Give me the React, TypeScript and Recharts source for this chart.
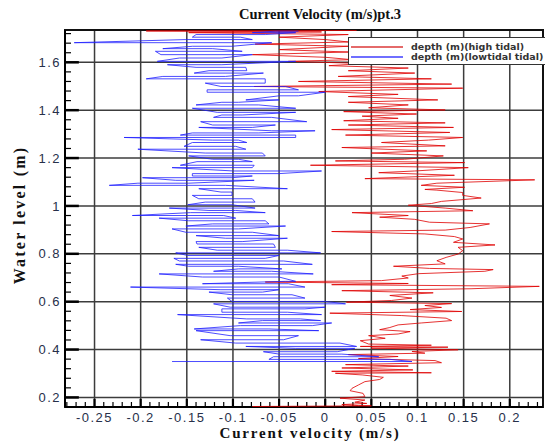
import React from 'react';
import {
  ScatterChart, Scatter, XAxis, YAxis, CartesianGrid, ReferenceLine, ReferenceArea,
} from 'recharts';

// high tidal profile: depth (m) and velocity (m/s), bottom to top
const highDepth = [
  0.162, 0.165, 0.166, 0.170, 0.175, 0.180, 0.189, 0.197, 0.203, 0.217,
  0.228, 0.238, 0.252, 0.266, 0.275, 0.284, 0.294, 0.301, 0.303, 0.309,
  0.315, 0.323, 0.331, 0.337, 0.345, 0.354, 0.362, 0.371, 0.379, 0.385,
  0.392, 0.399, 0.406, 0.410, 0.413, 0.418, 0.423, 0.437, 0.447, 0.458,
  0.465, 0.475, 0.483, 0.492, 0.503, 0.511, 0.521, 0.531, 0.542, 0.552,
  0.559, 0.567, 0.576, 0.584, 0.592, 0.598, 0.605, 0.615, 0.626, 0.637,
  0.646, 0.654, 0.664, 0.671, 0.676, 0.682, 0.688, 0.699, 0.707, 0.717,
  0.727, 0.734, 0.739, 0.748, 0.758, 0.771, 0.785, 0.799, 0.813, 0.827,
  0.837, 0.848, 0.862, 0.872, 0.883, 0.893, 0.899, 0.910, 0.925, 0.932,
  0.944, 0.953, 0.960, 0.972, 0.980, 0.991, 1.003, 1.010, 1.019, 1.033,
  1.044, 1.056, 1.066, 1.069, 1.078, 1.086, 1.095, 1.109, 1.114, 1.128,
  1.139, 1.146, 1.160, 1.170, 1.181, 1.188, 1.195, 1.209, 1.221, 1.230,
  1.244, 1.251, 1.265, 1.275, 1.286, 1.296, 1.307, 1.319, 1.328, 1.338,
  1.347, 1.356, 1.366, 1.375, 1.384, 1.394, 1.401, 1.410, 1.422, 1.433,
  1.443, 1.457, 1.466, 1.478, 1.492, 1.499, 1.509, 1.520, 1.531, 1.541,
  1.555, 1.565, 1.576, 1.586, 1.595, 1.604, 1.611, 1.621, 1.632, 1.643,
  1.653, 1.667, 1.676, 1.685, 1.695, 1.705, 1.716, 1.724, 1.727, 1.731,
  1.733,
];
const highVelocity = [
  -0.079, 0.050, 0.036, 0.018, 0.045, 0.032, 0.043, 0.016, 0.043, 0.041,
  0.027, 0.029, 0.036, 0.043, 0.059, 0.063, 0.040, 0.011, 0.115, 0.007,
  0.095, 0.018, 0.090, 0.022, 0.126, 0.119, 0.036, 0.079, 0.025, 0.108,
  0.094, 0.144, 0.050, 0.133, 0.038, 0.115, 0.047, 0.038, 0.065, 0.047,
  0.079, 0.092, 0.059, 0.070, 0.079, 0.104, 0.137, 0.131, 0.083, 0.005,
  0.148, 0.092, 0.126, 0.108, 0.137, 0.023, 0.072, 0.094, 0.070, 0.117,
  0.018, 0.158, 0.232, 0.007, 0.090, -0.065, 0.061, 0.090, 0.083, 0.101,
  0.173, 0.182, 0.113, 0.074, 0.130, 0.121, 0.131, 0.144, 0.149, 0.144,
  0.184, 0.139, 0.149, 0.140, 0.108, 0.007, 0.130, 0.157, 0.178, 0.113,
  0.097, 0.059, 0.090, 0.029, 0.160, 0.130, 0.090, 0.115, 0.126, 0.169,
  0.149, 0.149, 0.121, 0.108, 0.151, 0.104, 0.121, 0.227, 0.043, 0.140,
  0.058, 0.097, 0.155, -0.016, 0.151, 0.011, 0.086, 0.128, 0.050, 0.110,
  0.018, 0.130, 0.061, 0.112, 0.149, 0.022, 0.135, 0.007, 0.139, 0.025,
  0.130, 0.020, 0.079, 0.040, 0.099, 0.020, 0.130, 0.047, 0.090, 0.025,
  0.122, 0.025, 0.079, -0.007, 0.149, -0.077, 0.137, -0.029, 0.115, 0.014,
  0.097, 0.025, 0.090, 0.004, 0.043, -0.040, 0.029, 0.000, -0.079, 0.025,
  -0.050, 0.025, -0.076, 0.025, 0.000, -0.050, 0.025, -0.148, -0.004, -0.194,
  0.034,
];

// low tidal profile: each depth has a left and right swing of velocity
const lowDepth = [
  0.350, 0.359, 0.370, 0.381, 0.391, 0.405, 0.413, 0.427, 0.441, 0.458,
  0.479, 0.486, 0.500, 0.511, 0.521, 0.528, 0.546, 0.556, 0.570, 0.577,
  0.591, 0.601, 0.615, 0.629, 0.640, 0.650, 0.661, 0.675, 0.685, 0.703,
  0.716, 0.727, 0.737, 0.748, 0.756, 0.770, 0.781, 0.793, 0.804, 0.815,
  0.827, 0.841, 0.851, 0.865, 0.876, 0.890, 0.904, 0.916, 0.925, 0.938,
  0.949, 0.960, 0.972, 0.981, 0.991, 1.005, 1.016, 1.030, 1.044, 1.058,
  1.072, 1.086, 1.095, 1.107, 1.118, 1.125, 1.135, 1.146, 1.160, 1.170,
  1.185, 1.195, 1.209, 1.221, 1.237, 1.249, 1.265, 1.275, 1.286, 1.296,
  1.305, 1.314, 1.328, 1.338, 1.352, 1.370, 1.380, 1.391, 1.408, 1.422,
  1.433, 1.443, 1.460, 1.475, 1.485, 1.499, 1.513, 1.531, 1.541, 1.555,
  1.565, 1.579, 1.590, 1.604, 1.618, 1.632, 1.646, 1.657, 1.667, 1.682,
  1.695, 1.705, 1.716, 1.724, 1.730,
];
const lowLeft = [
  -0.166, -0.061, -0.056, -0.050, -0.067, -0.032, -0.086, -0.097, -0.135, -0.103,
  -0.140, -0.142, -0.092, -0.094, -0.068, -0.085, -0.160, -0.112, -0.112, -0.103,
  -0.121, -0.101, -0.106, -0.101, -0.126, -0.113, -0.211, -0.133, -0.043, -0.133,
  -0.180, -0.121, -0.094, -0.148, -0.162, -0.158, -0.164, -0.149, -0.162, -0.117,
  -0.137, -0.139, -0.140, -0.108, -0.140, -0.151, -0.166, -0.151, -0.122, -0.148,
  -0.180, -0.209, -0.146, -0.126, -0.169, -0.149, -0.130, -0.137, -0.144, -0.113,
  -0.137, -0.234, -0.203, -0.162, -0.198, -0.144, -0.144, -0.099, -0.166, -0.157,
  -0.139, -0.122, -0.148, -0.130, -0.203, -0.153, -0.144, -0.122, -0.218, -0.157,
  -0.144, -0.058, -0.137, -0.122, -0.135, -0.121, -0.112, -0.117, -0.144, -0.140,
  -0.112, -0.086, -0.050, -0.128, -0.128, -0.113, -0.130, -0.194, -0.176, -0.142,
  -0.126, -0.140, -0.171, -0.182, -0.158, -0.178, -0.184, -0.176, -0.144, -0.272,
  -0.151, -0.144, -0.140, -0.079, -0.054,
];
const lowRight = [
  0.094, 0.070, 0.058, 0.018, 0.013, 0.032, 0.034, 0.016, -0.045, -0.029,
  -0.007, -0.061, -0.014, 0.007, -0.005, -0.027, -0.004, -0.041, -0.022, 0.000,
  0.022, 0.000, -0.022, -0.036, -0.068, -0.050, -0.022, -0.040, -0.032, -0.050,
  -0.013, -0.058, -0.047, -0.094, -0.014, -0.045, -0.065, -0.050, -0.005, -0.041,
  -0.054, -0.056, -0.090, -0.041, -0.050, -0.079, -0.094, -0.043, -0.061, -0.065,
  -0.097, -0.110, -0.065, -0.097, -0.076, -0.101, -0.076, -0.079, -0.101, -0.101,
  -0.041, -0.108, -0.148, -0.077, -0.101, -0.079, -0.050, -0.004, -0.079, -0.077,
  -0.079, -0.094, -0.065, -0.068, -0.086, -0.097, -0.085, -0.094, -0.032, -0.032,
  -0.072, -0.011, -0.079, -0.054, -0.020, -0.058, -0.090, -0.032, -0.032, -0.072,
  -0.094, -0.050, -0.029, 0.000, -0.029, -0.043, -0.065, -0.065, -0.108, -0.067,
  -0.085, -0.086, -0.112, -0.032, -0.112, -0.079, -0.090, -0.122, -0.101, -0.058,
  -0.079, -0.092, -0.065, -0.032, -0.029,
];

const xTicks = [-0.25, -0.2, -0.15, -0.1, -0.05, 0, 0.05, 0.1, 0.15, 0.2];
const yTicks = [0.2, 0.4, 0.6, 0.8, 1, 1.2, 1.4, 1.6];

const X_DOMAIN: [number, number] = [-0.282, 0.236];
const Y_DOMAIN: [number, number] = [0.16, 1.735];

const highPoints = highDepth.map((d, i) => ({ d, v: highVelocity[i] }));
const lowPoints = lowDepth.flatMap((d, i) =>
  i % 2 === 0
    ? [{ d, v: lowLeft[i] }, { d, v: lowRight[i] }]
    : [{ d, v: lowRight[i] }, { d, v: lowLeft[i] }]
);

// minor tick positions (0.01 on x, 0.04 on y)
const xMinor: number[] = [];
for (let i = -28; i <= 23; i++) if (i % 5 !== 0) xMinor.push(i / 100);
const yMinor: number[] = [];
for (let i = 5; i <= 43; i++) if (i % 5 !== 0) yMinor.push(+(i * 0.04).toFixed(2));

const fmt = (v: number) => String(+v.toFixed(2));
const tickStyle = { fill: '#27304a', fontSize: 13, fontFamily: 'Liberation Sans, Arial, sans-serif', letterSpacing: 1.5 };
const serif = '"Liberation Serif", "Times New Roman", serif';
const noShape = () => <g />;

export default function App() {
  return (
    <div style={{ position: 'absolute', left: 0, top: 0, width: 545, height: 445, overflow: 'hidden', background: '#fff' }}>
      <ScatterChart width={545} height={445} margin={{ top: 30, right: 2, bottom: 0, left: 0 }}>
        <CartesianGrid stroke="#3c3c3c" strokeWidth={1.5} fill="none" />
        <XAxis
          type="number" dataKey="v" domain={X_DOMAIN} ticks={xTicks} interval={0}
          allowDataOverflow tickFormatter={fmt} tick={tickStyle}
          axisLine={{ stroke: '#000', strokeWidth: 2 }} tickLine={false} tickSize={0} tickMargin={6} height={38}
        />
        <YAxis
          type="number" dataKey="d" domain={Y_DOMAIN} ticks={yTicks} interval={0}
          allowDataOverflow tickFormatter={fmt} tick={tickStyle}
          axisLine={{ stroke: '#000', strokeWidth: 2 }} tickLine={false} tickSize={0} tickMargin={4} width={65}
        />
        <Scatter data={highPoints} fill="#e00000" line={{ stroke: '#e00000', strokeWidth: 1, strokeOpacity: 0.8 }}
          shape={noShape} legendType="none" isAnimationActive={false} />
        <Scatter data={lowPoints} fill="#1f1fff" line={{ stroke: '#1f1fff', strokeWidth: 1, strokeOpacity: 0.8 }}
          shape={noShape} legendType="none" isAnimationActive={false} />
        {xMinor.map((t) => (
          <ReferenceLine key={`xm${t}`} ifOverflow="visible" stroke="#000" strokeWidth={1.2}
            segment={[{ x: t, y: Y_DOMAIN[0] }, { x: t, y: Y_DOMAIN[0] + 0.021 }]} />
        ))}
        {xTicks.map((t) => (
          <ReferenceLine key={`xM${t}`} ifOverflow="visible" stroke="#000" strokeWidth={2.2}
            segment={[{ x: t, y: Y_DOMAIN[0] }, { x: t, y: Y_DOMAIN[0] + 0.034 }]} />
        ))}
        {yMinor.map((t) => (
          <ReferenceLine key={`ym${t}`} ifOverflow="visible" stroke="#000" strokeWidth={1.2}
            segment={[{ x: X_DOMAIN[0], y: t }, { x: X_DOMAIN[0] + 0.0065, y: t }]} />
        ))}
        {yTicks.map((t) => (
          <ReferenceLine key={`yM${t}`} ifOverflow="visible" stroke="#000" strokeWidth={2.5}
            segment={[{ x: X_DOMAIN[0], y: t }, { x: X_DOMAIN[0] + 0.015, y: t }]} />
        ))}
        <ReferenceArea x1={X_DOMAIN[0]} x2={X_DOMAIN[1]} y1={Y_DOMAIN[0]} y2={Y_DOMAIN[1]}
          fill="none" fillOpacity={0} stroke="#111" strokeWidth={2} ifOverflow="visible" />
      </ScatterChart>

      <div style={{ position: 'absolute', left: 320, top: 5, transform: 'translateX(-50%)', whiteSpace: 'nowrap',
        fontFamily: serif, fontWeight: 'bold', fontSize: 14.5, lineHeight: '18px', color: '#111' }}>
        Current Velocity (m/s)pt.3
      </div>
      <div style={{ position: 'absolute', left: 310, top: 424, transform: 'translateX(-50%)', whiteSpace: 'nowrap',
        fontFamily: serif, fontWeight: 'bold', fontSize: 15, lineHeight: '18px', letterSpacing: 1.8, color: '#111' }}>
        Current velocity (m/s)
      </div>
      <div style={{ position: 'absolute', left: 20, top: 215, transform: 'translate(-50%, -50%) rotate(-90deg)', whiteSpace: 'nowrap',
        fontFamily: serif, fontWeight: 'bold', fontSize: 16, lineHeight: '18px', letterSpacing: 2.2, color: '#111' }}>
        Water level (m)
      </div>

      <div style={{ position: 'absolute', left: 348, top: 37, width: 210, height: 28, boxSizing: 'border-box',
        border: '1.5px solid #333', background: '#fff' }}>
        {[
          { label: 'depth (m)(high tidal)', color: '#e46a6a' },
          { label: 'depth (m)(lowtidal tidal)', color: '#6f6fff' },
        ].map(({ label, color }, i) => (
          <div key={label} style={{ position: 'absolute', left: 0, top: 4 + i * 10, height: 10, width: '100%' }}>
            <span style={{ position: 'absolute', left: 2, top: 4, width: 52, height: 2, background: color }} />
            <span style={{ position: 'absolute', left: 62, top: -1, fontFamily: '"DejaVu Sans", Verdana, sans-serif',
              fontWeight: 'bold', fontSize: 9.5, lineHeight: '11px', letterSpacing: 0, color: '#333', whiteSpace: 'nowrap' }}>
              {label}
            </span>
          </div>
        ))}
      </div>
    </div>
  );
}
